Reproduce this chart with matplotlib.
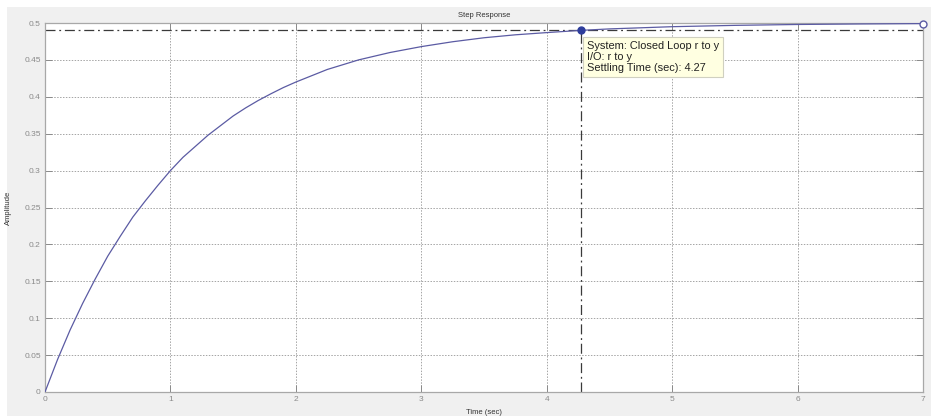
import matplotlib
matplotlib.use("Agg")
import matplotlib.pyplot as plt
from matplotlib.patches import Rectangle

# step response
t = [0, 0.1, 0.2, 0.3, 0.4, 0.5, 0.6, 0.7, 0.8, 0.9, 1.0, 1.1, 1.2, 1.3,
     1.4, 1.5, 1.6, 1.7, 1.8, 1.9, 2.0, 2.25, 2.5, 2.75, 3.0, 3.25, 3.5,
     3.75, 4.0, 4.27, 4.5, 5.0, 5.5, 6.0, 6.5, 7.0]
y = [0, 0.044, 0.084, 0.120, 0.153, 0.184, 0.211, 0.237, 0.259, 0.280,
     0.300, 0.318, 0.333, 0.348, 0.361, 0.374, 0.385, 0.395, 0.404, 0.4125,
     0.420, 0.437, 0.450, 0.460, 0.468, 0.4746, 0.480, 0.484, 0.487, 0.490,
     0.492, 0.495, 0.4968, 0.498, 0.4987, 0.4992]
settle_t, settle_y = 4.27, 0.49
xticks = [0, 1, 2, 3, 4, 5, 6, 7]
yticks = [0, 0.05, 0.1, 0.15, 0.2, 0.25, 0.3, 0.35, 0.4, 0.45, 0.5]
ytick_labels = ["0", "0.05", "0.1", "0.15", "0.2", "0.25", "0.3", "0.35",
                "0.4", "0.45", "0.5"]

LINE, DOT, TICK = "#5b5ba3", "#2e3d9c", "#8a8a8a"
plt.rcParams["font.family"] = ["Liberation Sans", "DejaVu Sans"]

fig = plt.figure(figsize=(9.31, 4.16), dpi=100, facecolor="white")
# grey panel behind the axes (thin white margin at top/left)
fig.patches.append(Rectangle((7 / 931, 0), 1, 1 - 7 / 416,
                             transform=fig.transFigure, facecolor="#f0f0f0",
                             edgecolor="none", zorder=-10))
ax = fig.add_axes([45 / 931, 24 / 416, 878 / 931, 369 / 416])
ax.set_facecolor("white")

ax.plot(t, y, color=LINE, lw=0.9, zorder=3)
ax.axhline(settle_y, color="#3a3a3a", lw=0.9, ls=(0, (8, 3, 1.5, 3)), zorder=2)
ax.plot([settle_t, settle_t], [0, settle_y], color="#3a3a3a", lw=0.9,
        ls=(0, (8, 3, 1.5, 3)), zorder=2)
ax.plot([settle_t], [settle_y], "o", color=DOT, ms=5, zorder=5)
ax.plot([t[-1]], [y[-1]], "o", mfc="white", mec=LINE, ms=5, mew=1.0,
        zorder=5, clip_on=False)

ax.annotate("System: Closed Loop r to y\nI/O: r to y\nSettling Time (sec): 4.27",
            xy=(settle_t, settle_y), xytext=(4.5, -7.5), textcoords="offset points",
            ha="left", va="top", fontsize=7.9, color="#222222",
            linespacing=1.15,
            bbox=dict(boxstyle="square,pad=0.35", fc="#ffffe1", ec="#d0d0c0",
                      lw=0.8), zorder=6)

ax.set_xlim(0, 7)
ax.set_ylim(0, 0.5)
ax.set_xticks(xticks)
ax.set_yticks(yticks)
ax.set_yticklabels(ytick_labels)
ax.grid(True, color="#a5a5a5", ls=(0, (1.5, 1.5)), lw=0.7)
ax.tick_params(direction="in", length=5, width=0.7, colors=TICK,
               labelsize=6, top=True, right=True, pad=3)
for s in ax.spines.values():
    s.set_color("#a8a8a8")
    s.set_linewidth(0.9)

ax.set_title("Step Response", fontsize=5.5, color="#333333", pad=4)
ax.set_xlabel("Time (sec)", fontsize=5.5, color="#333333", labelpad=4)
ax.set_ylabel("Amplitude", fontsize=5.5, color="#333333", labelpad=9)

fig.savefig("out.png", dpi=100)
